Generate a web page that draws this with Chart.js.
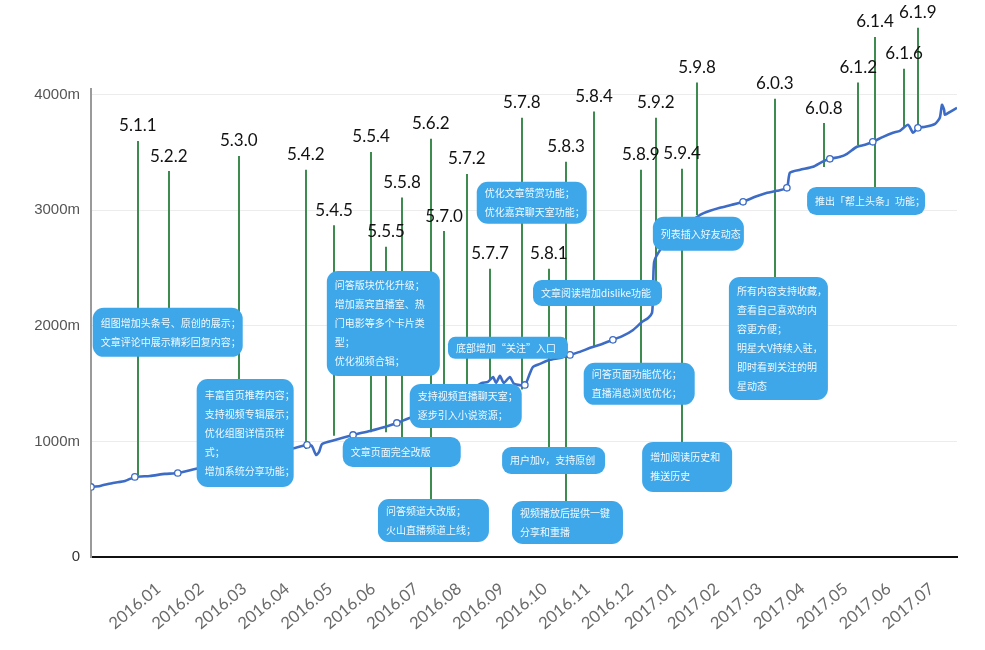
<!DOCTYPE html>
<html>
<head>
<meta charset="utf-8">
<script src="https://cdn.jsdelivr.net/npm/chart.js@4.4.1/dist/chart.umd.min.js"></script>
<style>
  html, body { margin: 0; padding: 0; background: #fff; }
  #wrap { width: 985px; height: 650px; }
</style>
</head>
<body>
<div id="wrap"><canvas id="chart-line"></canvas></div>
<script>
// month ticks, value 0 = 2016.01
var monthLabels = ["2016.01", "2016.02", "2016.03", "2016.04", "2016.05", "2016.06", "2016.07",
  "2016.08", "2016.09", "2016.10", "2016.11", "2016.12", "2017.01", "2017.02", "2017.03",
  "2017.04", "2017.05", "2017.06", "2017.07"];
var yTicks = [0, 1000, 2000, 3000, 4000];

// users curve (months since 2016.01, value in m)
var lineX = [-0.94, -0.73, -0.43, -0.15, 0.08, 0.43, 0.78, 1.08, 1.48, 1.94, 2.41, 2.88, 3.34, 3.81,
  4.09, 4.2, 4.3, 4.37, 4.44, 4.74, 5.16, 5.55, 5.9, 6.18, 6.48, 6.83, 7.18, 7.53, 7.88, 8.16,
  8.3, 8.42, 8.49, 8.58, 8.67, 8.81, 8.91, 9.16, 9.28, 9.35, 9.51, 9.74, 9.98, 10.21, 10.44,
  10.68, 10.91, 11.21, 11.44, 11.68, 11.89, 12.03, 12.12, 12.14, 12.17, 12.31, 12.54, 12.89,
  13.24, 13.47, 13.7, 13.98, 14.24, 14.52, 14.8, 15.03, 15.26, 15.33, 15.57, 15.87, 16.08,
  16.26, 16.5, 16.66, 16.89, 17.08, 17.26, 17.5, 17.73, 17.89, 18.08, 18.2, 18.31, 18.48,
  18.71, 18.82, 18.87, 18.92, 18.94, 19.06, 19.22];
var lineY = [606, 615, 641, 658, 693, 701, 719, 727, 762, 797, 831, 866, 909, 944,
  970, 961, 883, 909, 978, 1013, 1056, 1091, 1126, 1160, 1203, 1247, 1316, 1385, 1446, 1506,
  1515, 1558, 1506, 1567, 1506, 1558, 1498, 1489, 1593, 1645, 1671, 1706, 1723, 1749, 1775,
  1810, 1836, 1879, 1913, 1965, 2035, 2069, 2113, 2225, 2554, 2658, 2762, 2866,
  2961, 2996, 3022, 3048, 3074, 3117, 3152, 3169, 3195, 3325, 3351, 3377, 3420,
  3446, 3463, 3489, 3550, 3567, 3593, 3636, 3671, 3688, 3740, 3671, 3714, 3723,
  3749, 3801, 3913, 3870, 3827, 3853, 3887];

// small circle markers on the curve
var markerX = [-0.94, 0.08, 1.08, 4.09, 5.16, 6.18, 9.16, 10.21, 11.21, 14.24, 15.26, 16.26, 17.26, 18.31];
var markerY = [606, 693, 727, 970, 1056, 1160, 1489, 1749, 1879, 3074, 3195, 3446, 3593, 3714];

// app versions: release position, label height, end of the stem
var versionNames = ["5.1.1", "5.2.2", "5.3.0", "5.4.2", "5.4.5", "5.5.4", "5.5.5", "5.5.8", "5.6.2",
  "5.7.0", "5.7.2", "5.7.7", "5.7.8", "5.8.1", "5.8.3", "5.8.4", "5.8.9", "5.9.2", "5.9.4",
  "5.9.8", "6.0.3", "6.0.8", "6.1.2", "6.1.4", "6.1.6", "6.1.9"];
var versionX = [0.15, 0.87, 2.5, 4.06, 4.72, 5.58, 5.93, 6.3, 6.97, 7.28, 7.81, 8.35, 9.09, 9.72,
  10.12, 10.77, 11.86, 12.21, 12.82, 13.17, 14.98, 16.12, 16.92, 17.31, 17.99, 18.31];
var versionLabelY = [3730, 3470, 3600, 3480, 3000, 3635, 2815, 3240, 3750, 2950, 3445, 2625, 3930,
  2625, 3550, 3985, 3480, 3930, 3490, 4235, 4095, 3885, 4235, 4630, 4355, 4710];
var versionEnd = [710, 1965, 1450, 935, 1050, 1080, 1080, 1015, 450, 1450, 1450, 1530, 1450, 925,
  450, 1820, 1660, 2380, 970, 2960, 2400, 3375, 3565, 3175, 3715, 3725];

// feature notes
var noteTexts = [
  ["组图增加头条号、原创的展示；", "文章评论中展示精彩回复内容；"],
  ["丰富首页推荐内容；", "支持视频专辑展示；", "优化组图详情页样", "式；", "增加系统分享功能；"],
  ["问答版块优化升级；", "增加嘉宾直播室、热", "门电影等多个卡片类", "型；", "优化视频合辑；"],
  ["支持视频直播聊天室；", "逐步引入小说资源；"],
  ["文章页面完全改版"],
  ["问答频道大改版；", "火山直播频道上线；"],
  ["优化文章赞赏功能；", "优化嘉宾聊天室功能；"],
  ["底部增加“关注”入口"],
  ["文章阅读增加dislike功能"],
  ["用户加v，支持原创"],
  ["视频播放后提供一键", "分享和重播"],
  ["问答页面功能优化；", "直播消息浏览优化；"],
  ["列表插入好友动态"],
  ["增加阅读历史和", "推送历史"],
  ["所有内容支持收藏，", "查看自己喜欢的内", "容更方便；", "明星大V持续入驻，", "即时看到关注的明", "星动态"],
  ["推出「帮上头条」功能；"]
];
// box anchor (top-left, in data units) and size in px
var noteBoxes = [
  { x: -0.9, y: 2156, w: 150, h: 49 },
  { x: 1.52, y: 1541, w: 97, h: 108 },
  { x: 4.55, y: 2476, w: 113, h: 105 },
  { x: 6.48, y: 1498, w: 112, h: 44 },
  { x: 4.92, y: 1039, w: 118, h: 30 },
  { x: 5.74, y: 502, w: 111, h: 43 },
  { x: 8.04, y: 3247, w: 110, h: 42 },
  { x: 7.37, y: 1905, w: 120, h: 22 },
  { x: 9.35, y: 2398, w: 129, h: 26 },
  { x: 8.63, y: 952, w: 103, h: 27 },
  { x: 8.86, y: 485, w: 111, h: 43 },
  { x: 10.53, y: 1680, w: 111, h: 42 },
  { x: 12.14, y: 2944, w: 91, h: 34 },
  { x: 11.89, y: 996, w: 90, h: 50 },
  { x: 13.91, y: 2424, w: 99, h: 123 },
  { x: 15.73, y: 3203, w: 118, h: 28 }
];

var notesPlugin = {
  id: "notes",
  beforeDatasetsDraw: function (chart) {
    var ctx = chart.ctx, x = chart.scales.x, y = chart.scales.y;
    ctx.save();
    ctx.strokeStyle = "#3d8b4f";
    ctx.lineWidth = 2;
    versionNames.forEach(function (name, i) {
      var px = Math.round(x.getPixelForValue(versionX[i]));
      ctx.beginPath();
      ctx.moveTo(px, y.getPixelForValue(versionLabelY[i]) + 15);
      ctx.lineTo(px, y.getPixelForValue(versionEnd[i]));
      ctx.stroke();
    });
    ctx.restore();
  },
  afterDatasetsDraw: function (chart) {
    var ctx = chart.ctx, x = chart.scales.x, y = chart.scales.y;
    ctx.save();
    // note boxes
    noteBoxes.forEach(function (b, i) {
      var left = x.getPixelForValue(b.x), top = y.getPixelForValue(b.y);
      var lines = noteTexts[i];
      ctx.fillStyle = "#3ea7e9";
      ctx.beginPath();
      ctx.roundRect(left, top, b.w, b.h, Math.min(11, b.h / 3));
      ctx.fill();
      ctx.fillStyle = "rgba(255,255,255,0.93)";
      ctx.font = "10px 'Noto Sans CJK SC'";
      ctx.textAlign = "left";
      ctx.textBaseline = "middle";
      var lh = 19;
      var start = top + b.h / 2 - (lines.length - 1) * lh / 2;
      lines.forEach(function (t, k) {
        ctx.fillText(t, left + 8, start + k * lh);
      });
    });
    // version labels
    ctx.fillStyle = "#111";
    ctx.font = "17px Lato";
    ctx.textAlign = "center";
    ctx.textBaseline = "middle";
    versionNames.forEach(function (name, i) {
      ctx.fillText(name, x.getPixelForValue(versionX[i]), y.getPixelForValue(versionLabelY[i]));
    });
    ctx.restore();
  }
};

var ctx = document.getElementById("chart-line").getContext("2d");

new Chart(ctx, {
  type: "line",
  data: {
    datasets: [
      {
        label: "users",
        data: lineX.map(function (v, i) { return { x: v, y: lineY[i] }; }),
        borderColor: "#3d6cc6",
        borderWidth: 2.6,
        tension: 0.2,
        pointRadius: 0,
        fill: false,
        order: 2,
      },
      {
        label: "markers",
        data: markerX.map(function (v, i) { return { x: v, y: markerY[i] }; }),
        showLine: false,
        pointRadius: 3.2,
        pointBorderWidth: 1.3,
        pointBackgroundColor: "#fff",
        pointBorderColor: "#3d6cc6",
        order: 1,
      },
    ],
  },
  options: {
    responsive: true,
    maintainAspectRatio: false,
    animation: false,
    layout: { padding: { top: 89, right: 28, left: 0, bottom: 0 } },
    plugins: {
      legend: { display: false },
      tooltip: { enabled: false },
    },
    scales: {
      x: {
        type: "linear",
        min: -0.94,
        max: 19.22,
        afterBuildTicks: function (scale) {
          scale.ticks = monthLabels.map(function (m, i) { return { value: i }; });
        },
        afterFit: function (scale) { scale.height = 93; },
        grid: { display: false, drawTicks: false },
        border: { display: true, color: "#111", width: 2 },
        ticks: {
          callback: function (v) { return monthLabels[v]; },
          minRotation: 40,
          maxRotation: 40,
          autoSkip: false,
          padding: 22,
          labelOffset: 27,
          color: "#6a6a6a",
          font: { size: 16.5, family: "Lato" },
        },
      },
      y: {
        min: 0,
        max: 4050,
        afterBuildTicks: function (scale) {
          scale.ticks = yTicks.map(function (v) { return { value: v }; });
        },
        afterFit: function (scale) { scale.width = 91; },
        grid: {
          color: function (c) { return c.tick && c.tick.value === 0 ? "rgba(0,0,0,0)" : "#ececec"; },
          drawTicks: false,
        },
        border: { display: true, color: "#9a9a9a", width: 2 },
        ticks: {
          callback: function (v) { return v === 0 ? "0" : v + "m"; },
          padding: 11,
          color: function (c) { return c.tick.value === 0 ? "#333" : "#555"; },
          font: { size: 15, family: "Liberation Sans" },
        },
      },
    },
  },
  plugins: [notesPlugin],
});
</script>
</body>
</html>
